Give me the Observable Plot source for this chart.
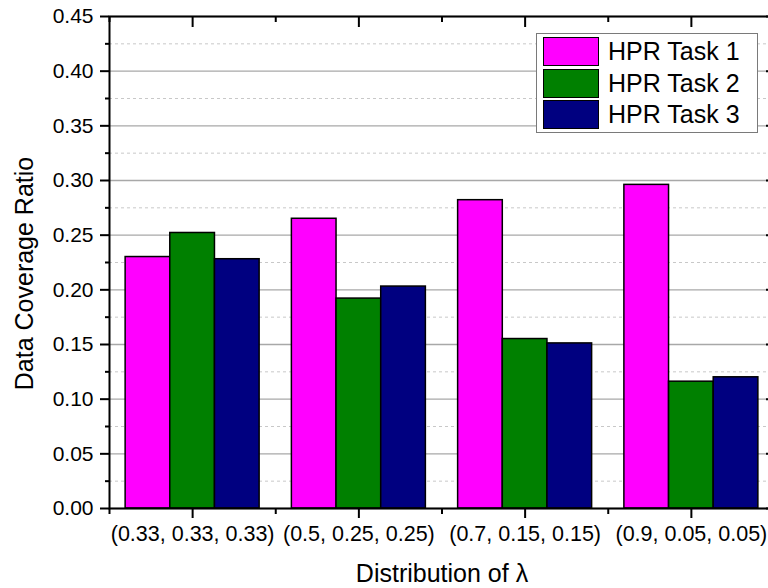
<!DOCTYPE html>
<html><head><meta charset="utf-8">
<script src="https://cdn.jsdelivr.net/npm/d3@7"></script>
<script src="https://cdn.jsdelivr.net/npm/@observablehq/plot@0.6"></script>
<style>
html,body{margin:0;padding:0;background:#fff;overflow:hidden;}
#wrap{position:relative;width:768px;height:588px;overflow:hidden;}
#legend{position:absolute;left:536px;top:33px;width:220px;height:98px;border:1px solid #7a7a7a;background:#fff;font-family:"Liberation Sans",Arial,sans-serif;font-size:25px;color:#000;}
.item{position:absolute;left:6px;display:flex;align-items:center;height:29px;}
.sw{width:56px;height:29px;box-sizing:border-box;border:1.5px solid #000;margin-right:9px;}
</style>
</head><body>
<div id="wrap"><div id="chart"></div><div id="legend"></div></div>
<script>
const categories = ["(0.33, 0.33, 0.33)", "(0.5, 0.25, 0.25)", "(0.7, 0.15, 0.15)", "(0.9, 0.05, 0.05)"];
const seriesNames = ["HPR Task 1", "HPR Task 2", "HPR Task 3"];
const task1 = [0.230, 0.265, 0.282, 0.296];
const task2 = [0.252, 0.192, 0.155, 0.116];
const task3 = [0.228, 0.203, 0.151, 0.120];
const colors = ["#ff00ff", "#008000", "#000080"];
const majorTicks = [0, 0.05, 0.10, 0.15, 0.20, 0.25, 0.30, 0.35, 0.40, 0.45];
const minorTicks = [0.025, 0.075, 0.125, 0.175, 0.225, 0.275, 0.325, 0.375, 0.425];
const yTitle = "Data Coverage Ratio";
const xTitle = "Distribution of λ";

const seriesValues = [task1, task2, task3];
const catPos = categories.map((c, i) => i + 1);
const boundaries = [0.5, 1.5, 2.5, 3.5, 4.5];
const groupWidth = 0.806;
const barW = groupWidth / seriesNames.length;
const rows = [];
seriesValues.forEach((vals, s) => vals.forEach((v, i) => rows.push({i, s, series: seriesNames[s], cat: categories[i], v})));

const plot = Plot.plot({
  width: 768, height: 588,
  marginLeft: 109, marginRight: -6, marginTop: 16, marginBottom: 80,
  style: {fontFamily: "'Liberation Sans', Arial, sans-serif", fontSize: "21px", color: "#000", background: "#fff"},
  x: {domain: [0.5, 4.5]},
  y: {domain: [0, 0.45]},
  color: {domain: seriesNames, range: colors},
  marks: [
    Plot.ruleY(minorTicks, {stroke: "#c8c8c8", strokeDasharray: "3,3", strokeWidth: 1}),
    Plot.ruleY(majorTicks, {stroke: "#a8a8a8", strokeWidth: 1.3}),
    Plot.rectY(rows, {
      x1: d => catPos[d.i] - groupWidth / 2 + d.s * barW,
      x2: d => catPos[d.i] - groupWidth / 2 + (d.s + 1) * barW,
      y1: 0, y2: "v", fill: "series", stroke: "#000", strokeWidth: 1.5
    }),
    Plot.frame({stroke: "#000", strokeWidth: 2}),
    Plot.axisY({anchor: "left", ticks: majorTicks, tickFormat: d3.format(".2f"), tickSize: 9, tickPadding: 7, strokeWidth: 2, label: null, fontSize: 21}),
    Plot.axisY({anchor: "left", ticks: minorTicks, tickSize: 4, strokeWidth: 2, fill: "none", label: null}),
    Plot.axisY({anchor: "right", ticks: majorTicks, tickSize: 9, dx: -9, strokeWidth: 2, fill: "none", label: null}),
    Plot.axisY({anchor: "right", ticks: minorTicks, tickSize: 4, dx: -4, strokeWidth: 2, fill: "none", label: null}),
    Plot.axisX({anchor: "bottom", ticks: catPos, tickFormat: i => categories[i - 1], tickSize: 10, tickPadding: 7, strokeWidth: 2, label: null, fontSize: 21.5}),
    Plot.axisX({anchor: "bottom", ticks: boundaries, tickSize: 6, strokeWidth: 2, fill: "none", label: null}),
    Plot.axisX({anchor: "top", ticks: catPos, tickSize: 10, dy: 10, strokeWidth: 2, fill: "none", label: null}),
    Plot.axisX({anchor: "top", ticks: boundaries, tickSize: 5, dy: 5, strokeWidth: 2, fill: "none", label: null}),
    Plot.text([yTitle], {text: d => d, frameAnchor: "left", textAnchor: "middle", rotate: -90, dx: -85, dy: 11, fontSize: 25}),
    Plot.text([xTitle], {text: d => d, frameAnchor: "bottom", dy: 73, fontSize: 25})
  ]
});
document.getElementById("chart").appendChild(plot);

const legend = document.getElementById("legend");
seriesNames.forEach((name, k) => {
  const item = document.createElement("div");
  item.className = "item";
  item.style.top = (3 + k * 31.5) + "px";
  const sw = document.createElement("div");
  sw.className = "sw";
  sw.style.background = colors[k];
  const label = document.createElement("span");
  label.textContent = name;
  item.appendChild(sw);
  item.appendChild(label);
  legend.appendChild(item);
});
</script>
</body></html>
